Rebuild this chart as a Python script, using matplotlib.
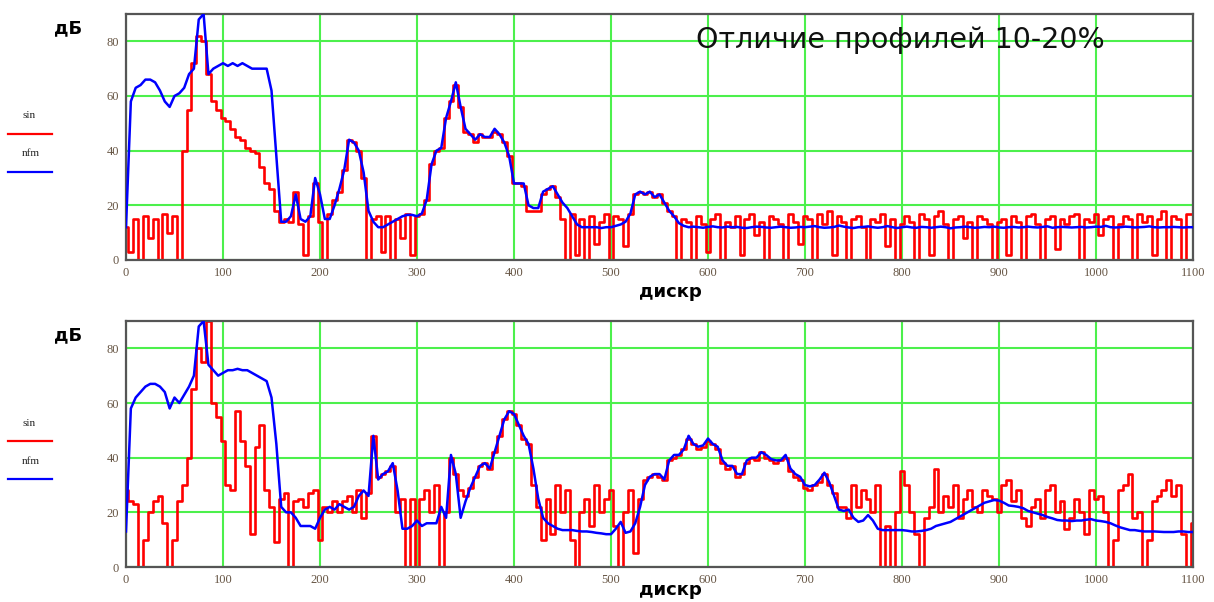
import numpy as np
import matplotlib
matplotlib.use("Agg")
import matplotlib.pyplot as plt

# sample index grid (every 5 samples, 0..1100)
x = np.arange(0, 1101, 5)

# ---------------- top panel ----------------
top_sin = [
    12, 3, 15, 0, 16, 8, 15, 0, 17, 10,
    16, 0, 40, 55, 72, 82, 80, 68, 58, 55,
    52, 51, 48, 45, 44, 41, 40, 39, 34, 28,
    26, 18, 14, 15, 14, 25, 13, 2, 16, 28,
    14, 0, 17, 22, 25, 33, 44, 43, 40, 30,
    0, 15, 16, 3, 16, 0, 15, 8, 17, 2,
    16, 17, 22, 35, 40, 41, 52, 58, 64, 56,
    47, 46, 43, 46, 45, 45, 47, 46, 43, 38,
    28, 28, 27, 18, 18, 18, 24, 26, 27, 23,
    15, 0, 17, 2, 15, 0, 16, 6, 14, 17,
    0, 16, 15, 5, 17, 24, 25, 24, 25, 23,
    24, 21, 18, 16, 0, 15,
    14, 0, 16, 13, 3, 15, 17, 0, 14, 12,
    16, 2, 15, 17, 9, 14, 0, 16, 15, 13,
    0, 17, 14, 6, 16, 15, 0, 17, 13, 18,
    2, 16, 14, 0, 15, 16, 12, 0, 15, 14,
    17, 5, 15, 0, 13, 16, 14, 0, 17, 15,
    2, 16, 18, 13, 0, 15, 16, 8, 14, 0,
    16, 15, 13, 0, 14, 15, 2, 16, 14, 0,
    16, 17, 13, 0, 15, 16, 4, 15, 13, 16,
    17, 0, 15, 14, 17, 9, 15, 16, 0, 13,
    16, 15, 0, 17, 14, 16, 2, 15, 18, 0,
    16, 15, 0, 17, 17,
]
top_nfm = [
    12, 58, 63, 64, 66, 66, 65, 62, 58, 56,
    60, 61, 63, 68, 70, 88, 90, 68, 70, 71,
    72, 71, 72, 71, 72, 71, 70, 70, 70, 70,
    62, 38, 14, 14, 16, 24, 15, 14, 16, 30,
    24, 15, 15, 20, 26, 33, 44, 43, 40, 32,
    18, 14, 12, 12, 13, 14, 15, 16, 16.5, 16.5,
    16, 17, 22, 35, 40, 41, 52, 58, 65, 56,
    48, 46, 44, 46, 45, 45, 48, 46, 43, 38,
    28, 28, 28, 20, 19, 19, 25, 26, 27, 24,
    21, 19, 16, 13, 12, 12, 12, 12, 11.7, 12,
    12, 12.5, 13, 14, 17, 24, 25, 24, 25, 23,
    24, 21, 18, 16, 13.5, 12.5,
    12.0, 12.2, 12.0, 11.8, 12.1, 12.3, 12.0, 11.9, 12.2, 12.0,
    12.1, 11.8, 11.7, 12.0, 12.2, 12.1, 11.9, 11.8, 12.0, 12.2,
    12.0, 11.8, 11.9, 12.1, 12.0, 12.2, 12.4, 12.0, 11.8, 11.9,
    12.1, 12.6, 12.2, 11.9, 11.7, 12.0, 12.1, 12.3, 12.0, 11.8,
    12.0, 12.4, 12.0, 11.7, 12.0, 12.2, 11.9, 11.8, 12.1, 12.0,
    11.8, 12.0, 12.2, 12.0, 11.6, 11.9, 12.0, 12.2, 12.0, 11.8,
    11.9, 12.1, 12.0, 12.2, 11.9, 11.8, 12.0, 12.1, 11.9, 12.0,
    12.2, 12.0, 11.9, 12.1, 12.3, 11.8, 12.0, 12.1, 12.0, 11.9,
    12.0, 12.1, 11.9, 12.0, 12.2, 12.1, 12.5, 12.0, 11.9, 12.0,
    12.2, 12.1, 11.9, 12.0, 12.1, 12.3, 12.0, 11.9, 12.0, 12.0,
    12.1, 12.0, 11.9, 12.0, 12.0,
]

# ---------------- bottom panel ----------------
bot_sin = [
    28, 24, 23, 0, 10, 20, 24, 26, 16, 0,
    10, 24, 30, 40, 65, 80, 75, 90, 60, 55,
    46, 30, 28, 57, 46, 37, 12, 44, 52, 28,
    22, 9, 25, 27, 0, 24, 25, 22, 27, 28,
    10, 22, 20, 24, 20, 24, 26, 20, 28, 18,
    27, 48, 33, 34, 35, 37, 20, 25, 0, 25,
    0, 25, 28, 20, 30, 0, 20, 40, 34, 28,
    26, 29, 33, 37, 38, 36, 42, 48, 54, 57,
    56, 52, 47, 45, 30, 22, 10, 25, 12, 30,
    20, 28, 10, 0, 20, 25, 15, 30, 20, 25,
    28, 15, 0, 20, 28, 5, 25, 32, 33, 34,
    33, 32, 39, 40, 41, 43, 47, 45, 43, 44,
    46, 45, 43, 38, 36, 37, 33, 34, 38, 40,
    39, 42, 40, 39, 38, 39, 40, 35, 33, 32,
    29, 28, 30, 31, 34, 30, 27, 22, 22, 18,
    30, 22, 28, 25, 20, 30, 0, 15, 0, 20,
    35, 30, 20, 12, 0, 18, 22, 36, 20, 26,
    22, 30, 18, 25, 28, 22, 20, 28, 26, 25,
    20, 30, 32, 24, 28, 18, 15, 22, 25, 18,
    28, 30, 20, 24, 14, 18, 25, 20, 12, 28,
    25, 26, 20, 0, 10, 28, 30, 34, 18, 20,
    0, 10, 24, 26, 28, 32, 26, 30, 12, 0, 16,
]
bot_nfm = [
    13, 58, 62, 64, 66, 67, 67, 66, 64, 58,
    62, 60, 63, 66, 70, 88, 90, 74, 72, 70,
    71, 72, 72, 72.5, 72, 72, 71, 70, 69, 68,
    62, 45, 22, 20, 20, 18, 15, 15, 15, 14,
    18, 21, 22, 21, 23, 22, 21, 22, 26, 28,
    26, 48, 32, 34, 35, 38, 28, 14, 14, 15,
    17, 15, 16, 16, 16, 22, 18, 41, 34, 18,
    24, 29, 33, 37, 38, 36, 42, 48, 54, 57,
    56, 52, 48, 45, 36, 25, 18, 16, 15, 14,
    13.5, 13.5, 13.5, 13.2, 13, 13, 12.8, 12.5, 12.3, 12,
    12, 14, 16.5, 12.5, 13, 16, 22, 30, 33, 34,
    34, 32, 39, 41, 41, 43, 48, 45, 44, 44.5,
    47, 45, 44, 39, 37, 37, 34, 34, 39, 40,
    40, 42, 41, 39.5, 39, 39, 41, 36, 34, 33,
    30, 29.5, 30, 32, 34.5, 31, 26, 21, 20.5, 21,
    18, 16.5, 17, 19, 17, 14, 13.5, 13.5, 13.5, 13.5,
    13.5, 13.3, 13, 13, 13.2, 13.5, 14, 15, 15.5, 16,
    16.5, 17.5, 18.5, 19.5, 20.5, 21.5, 22.5, 23.5, 24, 24.5,
    24.3, 23.5, 22.5, 22.3, 22, 21.5, 20.5, 20, 19.5, 19,
    18.3, 17.8, 17.2, 17, 17, 16.8, 17, 17, 17.3, 17.5,
    17, 16.8, 16.5, 16, 15.2, 14.5, 14, 13.5, 13.5, 13.2,
    13, 13, 13, 12.9, 12.8, 12.8, 12.8, 13, 13, 12.8, 12.8,
]

x_ticks = list(range(0, 1101, 100))
y_ticks = [0, 20, 40, 60, 80]
series_names = ("sin", "nfm")
title_text = "Отличие профилей 10-20%"
y_label = "дБ"
x_label = "дискр"

RED = "#ff0000"
BLUE = "#0000ff"
GRID = "#4cf04c"
TICK_COL = "#665544"

fig = plt.figure(figsize=(12.14, 6.02), dpi=100)
fig.patch.set_facecolor("white")

W, H = 1214.0, 602.0
panels = [
    (14, 260, top_sin, top_nfm, 292),
    (321, 567, bot_sin, bot_nfm, 590),
]

for k, (ptop, pbot, s_red, s_blue, xl_y) in enumerate(panels):
    ax = fig.add_axes([126 / W, 1 - pbot / H, 1067 / W, (pbot - ptop) / H])
    ax.set_xlim(0, 1100)
    ax.set_ylim(0, 90)
    ax.set_xticks(x_ticks)
    ax.set_yticks(y_ticks)
    ax.grid(True, color=GRID, lw=1.5, zorder=0)
    ax.set_axisbelow(True)
    ax.plot(x, s_red, color=RED, lw=1.9, drawstyle="steps-mid", zorder=2)
    ax.plot(x, s_blue, color=BLUE, lw=1.8, zorder=3)
    ax.tick_params(length=0, pad=5, labelsize=9, labelcolor=TICK_COL)
    for lab in ax.get_xticklabels() + ax.get_yticklabels():
        lab.set_family("Liberation Serif")
    for sp in ax.spines.values():
        sp.set_color("#555555")
        sp.set_linewidth(1.6)

    # y label "дБ"
    fig.text(68 / W, 1 - (ptop + 14) / H, y_label, fontsize=13,
             fontweight="bold", ha="center", va="center",
             family="DejaVu Sans")
    # x label
    fig.text(670 / W, 1 - xl_y / H, x_label, fontsize=13,
             fontweight="bold", ha="center", va="center",
             family="DejaVu Sans")

    # legend-like labels on the left
    off = ptop
    fig.text(29 / W, 1 - (off + 102) / H, series_names[0], fontsize=8,
             ha="center", va="center", family="Liberation Serif",
             color="#222222")
    fig.add_artist(plt.Line2D([8 / W, 52 / W],
                              [1 - (off + 120) / H, 1 - (off + 120) / H],
                              color=RED, lw=1.6))
    fig.text(31 / W, 1 - (off + 140) / H, series_names[1], fontsize=8,
             ha="center", va="center", family="Liberation Serif",
             color="#222222")
    fig.add_artist(plt.Line2D([8 / W, 52 / W],
                              [1 - (off + 158) / H, 1 - (off + 158) / H],
                              color=BLUE, lw=1.6))

    if k == 0:
        ax.text(0.534, 0.895, title_text, transform=ax.transAxes,
                fontsize=20.5, ha="left", va="center", family="DejaVu Sans",
                color="#111111")

fig.savefig("out.png", dpi=100, facecolor="white")
